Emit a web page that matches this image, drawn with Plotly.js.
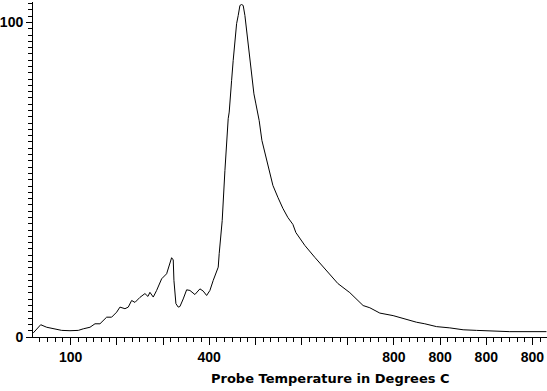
<!DOCTYPE html>
<html>
<head>
<meta charset="utf-8">
<script src="https://cdn.plot.ly/plotly-3.0.1.min.js"></script>
<style>
html,body{margin:0;padding:0;background:#fff;}
#chart{width:547px;height:391px;}
</style>
</head>
<body>
<div id="chart"></div>
<script>
// Probe temperature (deg C) and signal (relative units)
const temperature = [
  19.0, 35.1, 48.1, 66.0, 80.5, 98.5, 116.5, 127.3, 141.8, 152.6,
  163.4, 177.9, 188.7, 199.6, 206.7, 217.5, 224.7, 232.0, 239.2, 250.0,
  260.8, 267.3, 271.6, 278.8, 286.1, 297.0, 307.8, 318.6, 322.1, 323.6,
  327.9, 332.9, 336.6, 343.7, 351.1, 358.2, 369.0, 379.9, 387.0, 394.4,
  401.5, 408.7, 416.0, 419.5, 421.6, 424.7, 428.1, 434.0, 438.3, 441.1,
  443.3, 444.8, 448.5, 451.9, 455.6, 459.3, 462.8, 466.5, 470.1, 473.6,
  477.3, 480.9, 484.4, 488.1, 491.8, 493.9, 496.8, 501.1, 506.1, 508.2,
  514.1, 520.6, 524.9, 531.4, 537.9, 548.7, 559.5, 570.3, 581.2, 587.7,
  607.1, 628.8, 654.8, 678.6, 704.5, 722.5, 733.3, 747.8, 769.5, 798.3,
  819.9, 848.9, 866.9, 892.2, 921.0, 949.8, 978.8, 1022.1, 1050.9, 1130.3
];
const signal = [
  1.3, 3.9, 3.1, 2.6, 2.1, 2.0, 2.1, 2.6, 3.1, 4.2,
  4.2, 6.3, 6.3, 7.9, 9.5, 9.0, 9.5, 11.6, 11.0, 12.6,
  13.8, 12.9, 14.2, 12.7, 14.8, 18.5, 20.1, 25.2, 24.5, 18.0,
  10.6, 9.5, 9.7, 12.1, 15.0, 14.8, 13.5, 15.3, 14.6, 13.2,
  14.8, 18.0, 21.1, 22.2, 26.5, 31.7, 37.0, 52.9, 64.1, 69.4,
  71.5, 75.2, 81.6, 87.9, 94.3, 99.6, 102.2, 105.4, 105.7, 105.4,
  102.2, 97.5, 93.2, 89.0, 84.7, 80.5, 77.3, 74.1, 71.0, 68.8,
  62.5, 58.7, 55.5, 51.4, 48.2, 44.4, 40.9, 38.0, 35.8, 33.2,
  29.1, 25.3, 21.1, 17.0, 14.1, 11.6, 10.0, 9.3, 7.6, 6.8,
  5.8, 4.7, 4.2, 3.3, 2.9, 2.3, 2.1, 1.8, 1.7, 1.7
];
// Axis tick labels as printed on the original
const xTickVals = [100, 200, 300, 400, 500, 600, 700, 800, 900, 1000, 1100];
const xTickText = ['100', '', '', '400', '', '', '', '800', '800', '800', '800'];
const yTickVals = [0, 100];
const yTickText = ['0', '100'];
const xTitle = 'Probe Temperature in Degrees C';

const tickFont = {family: 'Liberation Sans, Arial, sans-serif', size: 14, color: '#000', weight: 700};

Plotly.newPlot('chart', [{
  x: temperature,
  y: signal,
  type: 'scatter',
  mode: 'lines',
  line: {color: '#000', width: 1},
  hoverinfo: 'skip'
}], {
  width: 547,
  height: 391,
  margin: {l: 33, r: 0, t: 2, b: 54, pad: 0},
  paper_bgcolor: '#fff',
  plot_bgcolor: '#fff',
  showlegend: false,
  xaxis: {
    range: [18.4, 1131.5],
    showgrid: false,
    zeroline: false,
    showline: true,
    linecolor: '#000',
    linewidth: 1,
    ticks: 'outside',
    ticklen: 7,
    tickwidth: 1,
    tickcolor: '#000',
    tickmode: 'array',
    tickvals: xTickVals,
    ticktext: xTickText,
    tickfont: tickFont,
    minor: {dtick: 100 / 6, tick0: 0, ticks: 'outside', ticklen: 4, tickcolor: '#000', showgrid: false}
  },
  yaxis: {
    range: [0, 106.5],
    showgrid: false,
    zeroline: false,
    showline: true,
    linecolor: '#000',
    linewidth: 1,
    ticks: 'outside',
    ticklen: 6,
    tickwidth: 1,
    tickcolor: '#000',
    tickmode: 'array',
    tickvals: yTickVals,
    ticktext: yTickText,
    tickfont: tickFont,
    minor: {dtick: 2, tick0: 0, ticks: 'outside', ticklen: 4, tickcolor: '#000', showgrid: false}
  },
  annotations: [{
    text: xTitle,
    xref: 'paper', yref: 'paper',
    x: 0.578, y: -0.125,
    xanchor: 'center', yanchor: 'middle',
    showarrow: false,
    font: {family: 'DejaVu Sans, sans-serif', size: 13, color: '#000', weight: 700}
  }]
}, {staticPlot: true, displayModeBar: false});
</script>
</body>
</html>
